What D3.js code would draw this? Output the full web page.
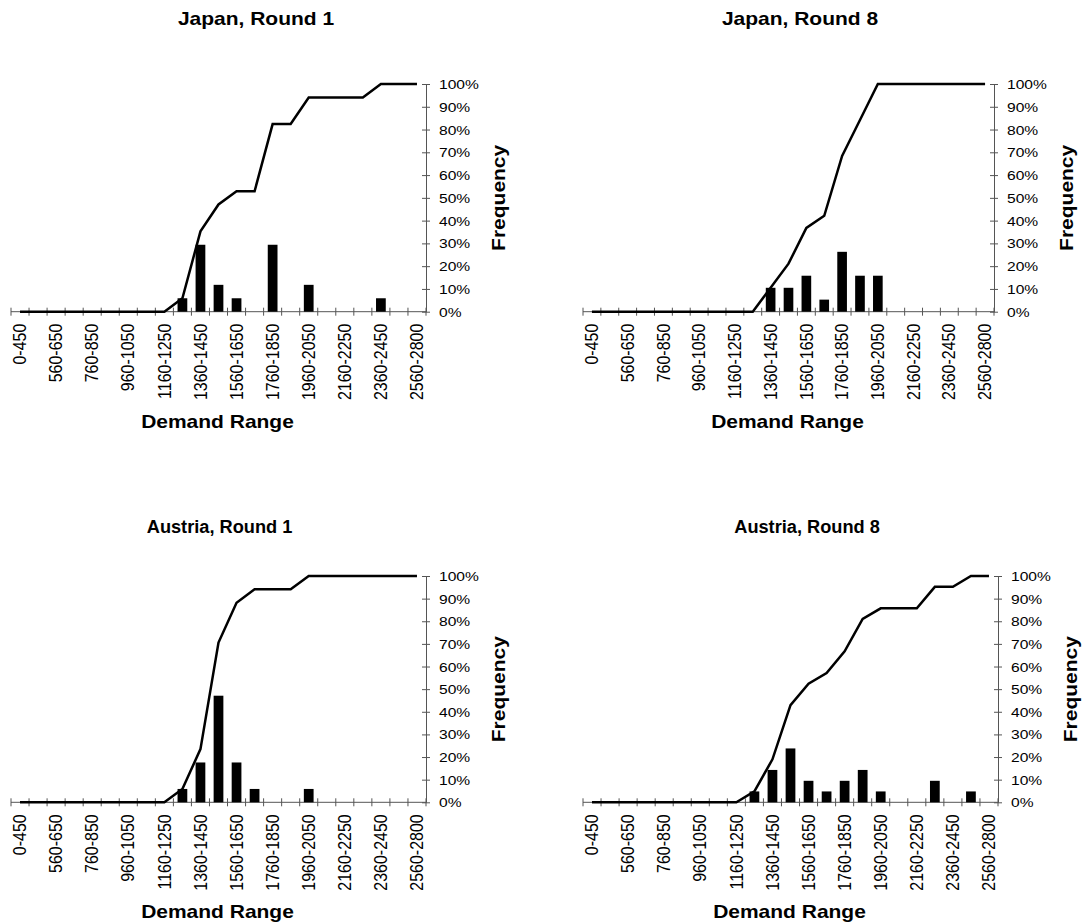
<!DOCTYPE html>
<html>
<head>
<meta charset="utf-8">
<script src="https://cdn.jsdelivr.net/npm/d3@7"></script>
<style>
  body { margin: 0; background: #fff; }
  svg text { font-family: "Liberation Sans", Arial, sans-serif; fill: #000; }
</style>
</head>
<body>
<svg id="chart" width="1084" height="923"></svg>
<script>
// demand bins (only every second one gets a label on the axis)
const categories = ["0-450", "460-550", "560-650", "660-750", "760-850", "860-950",
  "960-1050", "1060-1150", "1160-1250", "1260-1350", "1360-1450", "1460-1550",
  "1560-1650", "1660-1750", "1760-1850", "1860-1950", "1960-2050", "2060-2150",
  "2160-2250", "2260-2350", "2360-2450", "2460-2550", "2560-2800"];
const shownLabels = ["0-450", "560-650", "760-850", "960-1050", "1160-1250", "1360-1450",
  "1560-1650", "1760-1850", "1960-2050", "2160-2250", "2360-2450", "2560-2800"];
const yTicks = [0, 10, 20, 30, 40, 50, 60, 70, 80, 90, 100];

// share of answers per bin (%) and cumulative share (%)
const japanR1Pct = [0, 0, 0, 0, 0, 0, 0, 0, 0, 5.9, 29.4, 11.8, 5.9, 0, 29.4, 0, 11.8, 0, 0, 0, 5.9, 0, 0];
const japanR1Cum = [0, 0, 0, 0, 0, 0, 0, 0, 0, 5.9, 35.3, 47.1, 52.9, 52.9, 82.4, 82.4, 94.1, 94.1, 94.1, 94.1, 100, 100, 100];

const japanR8Pct = [0, 0, 0, 0, 0, 0, 0, 0, 0, 0, 10.5, 10.5, 15.8, 5.3, 26.3, 15.8, 15.8, 0, 0, 0, 0, 0, 0];
const japanR8Cum = [0, 0, 0, 0, 0, 0, 0, 0, 0, 0, 10.5, 21.1, 36.8, 42.1, 68.4, 84.2, 100, 100, 100, 100, 100, 100, 100];

const austriaR1Pct = [0, 0, 0, 0, 0, 0, 0, 0, 0, 5.9, 17.6, 47.1, 17.6, 5.9, 0, 0, 5.9, 0, 0, 0, 0, 0, 0];
const austriaR1Cum = [0, 0, 0, 0, 0, 0, 0, 0, 0, 5.9, 23.5, 70.6, 88.2, 94.1, 94.1, 94.1, 100, 100, 100, 100, 100, 100, 100];

const austriaR8Pct = [0, 0, 0, 0, 0, 0, 0, 0, 0, 4.8, 14.3, 23.8, 9.5, 4.8, 9.5, 14.3, 4.8, 0, 0, 9.5, 0, 4.8, 0];
const austriaR8Cum = [0, 0, 0, 0, 0, 0, 0, 0, 0, 4.8, 19.0, 42.9, 52.4, 57.1, 66.7, 81.0, 85.7, 85.7, 85.7, 95.2, 95.2, 100, 100];

const panels = [
  { title: "Japan, Round 1", pct: japanR1Pct, cum: japanR1Cum, titleStretch: 1.2,
    left: 11, right: 426, top: 84, bottom: 311.7, titleX: 256, titleY: 24.5 },
  { title: "Japan, Round 8", pct: japanR8Pct, cum: japanR8Cum, titleStretch: 1.2,
    left: 583, right: 994, top: 84, bottom: 311.7, titleX: 800, titleY: 24.5 },
  { title: "Austria, Round 1", pct: austriaR1Pct, cum: austriaR1Cum, titleStretch: 1.04,
    left: 11, right: 426, top: 576, bottom: 802.3, titleX: 219.5, titleY: 532.5 },
  { title: "Austria, Round 8", pct: austriaR8Pct, cum: austriaR8Cum, titleStretch: 1.04,
    left: 583, right: 998, top: 576, bottom: 802.3, titleX: 807, titleY: 532.5 }
];

const svg = d3.select("#chart");
const axisColor = "#555";
const stretch = 1.2; // text in the original is drawn a bit wide

panels.forEach(p => {
  const g = svg.append("g");

  const x = d3.scaleBand()
      .domain(categories)
      .range([p.left, p.right])
      .padding(0);
  const bw = x.bandwidth();

  const y = d3.scaleLinear()
      .domain([0, 100])
      .range([p.bottom, p.top]);

  // x axis: labels rotated, ticks on bin borders
  const xAxis = g.append("g")
      .attr("transform", "translate(0," + p.bottom + ")")
      .call(d3.axisBottom(x).tickSize(0).tickFormat(d => shownLabels.includes(d) ? d : ""));
  xAxis.select(".domain").remove();
  xAxis.selectAll("text")
      .attr("transform", "rotate(-90) scale(1,1.1)")
      .attr("x", -12)
      .attr("y", 0)
      .attr("dy", "0.35em")
      .style("text-anchor", "end")
      .style("font-size", "16px");

  g.append("line")
      .attr("x1", p.left).attr("x2", p.right)
      .attr("y1", p.bottom).attr("y2", p.bottom)
      .attr("stroke", axisColor);

  const borders = categories.map(c => x(c)).concat([p.right]);
  g.selectAll(".xtick")
    .data(borders)
    .enter().append("line")
      .attr("class", "xtick")
      .attr("x1", d => d).attr("x2", d => d)
      .attr("y1", p.bottom - 4).attr("y2", p.bottom + 4)
      .attr("stroke", axisColor);

  // y axis on the right
  const yAxis = g.append("g")
      .attr("transform", "translate(" + p.right + ",0)")
      .call(d3.axisRight(y).tickValues(yTicks).tickFormat(d => d + "%").tickSizeOuter(0));
  yAxis.select(".domain").attr("stroke", axisColor);
  yAxis.selectAll(".tick line")
      .attr("x1", -4).attr("x2", 4)
      .attr("stroke", axisColor);
  yAxis.selectAll(".tick text")
      .attr("x", 13 / stretch)
      .attr("dy", "0.35em")
      .attr("transform", "scale(" + stretch + ",1)")
      .style("font-size", "13px");

  // bars
  const barW = bw * 0.54;
  g.selectAll(".bar")
    .data(categories.map((c, i) => ({ c: c, v: p.pct[i] })).filter(d => d.v > 0))
    .enter().append("rect")
      .attr("class", "bar")
      .attr("x", d => x(d.c) + (bw - barW) / 2)
      .attr("width", barW)
      .attr("y", d => y(d.v))
      .attr("height", d => p.bottom - y(d.v))
      .attr("fill", "#000");

  // cumulative line
  const line = d3.line()
      .x(d => x(d.c) + bw / 2)
      .y(d => y(d.v));
  g.append("path")
      .datum(categories.map((c, i) => ({ c: c, v: p.cum[i] })))
      .attr("d", line)
      .attr("fill", "none")
      .attr("stroke", "#000")
      .attr("stroke-width", 2.5);

  // titles
  g.append("text")
      .attr("transform", "translate(" + p.titleX + "," + p.titleY + ") scale(" + p.titleStretch + ",1)")
      .style("text-anchor", "middle")
      .style("font-size", "17.5px")
      .style("font-weight", "bold")
      .text(p.title);

  // Demand Range
  g.append("text")
      .attr("transform", "translate(" + ((p.left + p.right) / 2 - 1) + "," + (p.bottom + 116) + ") scale(" + stretch + ",1)")
      .style("text-anchor", "middle")
      .style("font-size", "17.5px")
      .style("font-weight", "bold")
      .text("Demand Range");

  // Frequency
  g.append("text")
      .attr("transform", "translate(" + (p.right + 79) + "," + ((p.top + p.bottom) / 2) + ") rotate(-90) scale(" + stretch + ",1)")
      .style("text-anchor", "middle")
      .style("font-size", "17.5px")
      .style("font-weight", "bold")
      .text("Frequency");
});
</script>
</body>
</html>
